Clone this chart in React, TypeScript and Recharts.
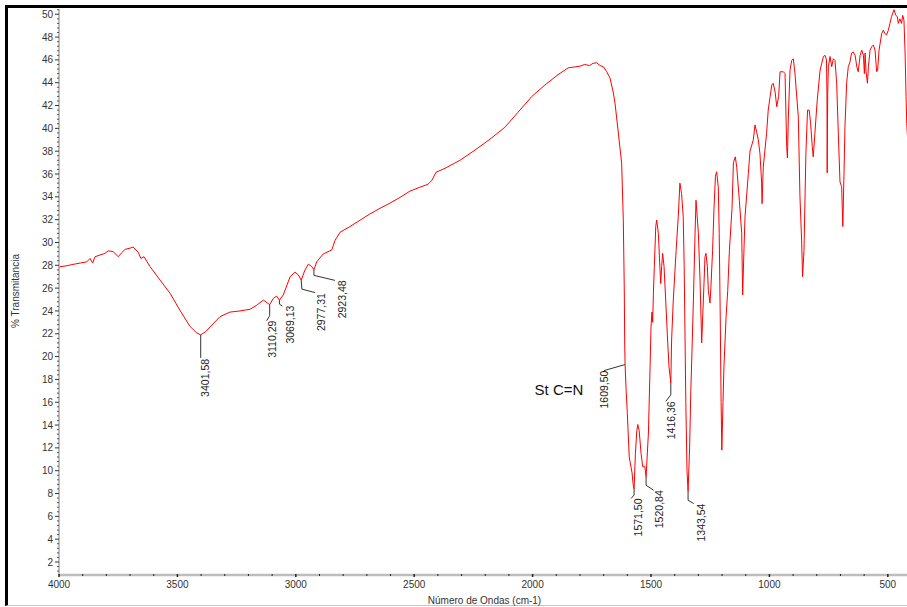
import React from 'react';
import { LineChart, Line, XAxis, YAxis, ReferenceDot } from 'recharts';

// FT-IR spectrum: wavenumber (cm-1) vs. % transmittance
const wavenumbers = [
  4000, 3996, 3970, 3940, 3910, 3883, 3869, 3858, 3848, 3827, 3806, 3792, 3771, 3750, 3735, 3721,
  3700, 3687, 3666, 3654, 3641, 3616, 3573, 3531, 3489, 3447, 3420, 3401.58, 3380, 3362, 3320, 3278,
  3236, 3193, 3165, 3137, 3120, 3110.29, 3095, 3081, 3069.13, 3053, 3024, 3003, 2989, 2977.31, 2961,
  2947, 2933, 2923.48, 2912, 2884, 2848, 2834, 2813, 2771, 2729, 2687, 2644, 2602, 2560, 2518, 2475,
  2442, 2425, 2408, 2370, 2307, 2243, 2180, 2117, 2062, 2003, 1948, 1893, 1850, 1800, 1780, 1760,
  1745, 1729, 1715, 1701, 1687, 1673, 1659, 1652, 1638, 1624, 1617, 1613, 1611, 1609.5, 1605, 1600,
  1592, 1580, 1576, 1571.5, 1566, 1560, 1556, 1550, 1542, 1535, 1526, 1520.84, 1511, 1504, 1500, 1496,
  1493, 1490, 1486, 1480, 1476, 1469, 1462, 1459, 1455, 1451, 1445, 1438, 1430, 1424, 1416.36, 1413,
  1406, 1394, 1385, 1378, 1371, 1364, 1360, 1353, 1348, 1343.54, 1337, 1332, 1328, 1321, 1314, 1310,
  1300, 1293, 1286, 1279, 1272, 1268, 1262, 1258, 1251, 1247, 1240, 1234, 1228, 1223, 1216, 1212,
  1208, 1204, 1201, 1196, 1192, 1183, 1176, 1169, 1158, 1152, 1144, 1138, 1127, 1117, 1113, 1108,
  1103, 1089, 1082, 1068, 1061, 1054, 1047, 1040, 1033, 1031, 1026, 1012, 1005, 997, 990, 984, 976,
  969, 961, 955, 941, 934, 927, 924, 920, 913, 906, 899, 892, 878, 871, 864, 860, 854, 846, 839, 832,
  826, 819, 815, 808, 798, 786, 772, 765, 759, 757, 756, 754, 751, 744, 737, 730, 723, 716, 709, 702,
  695, 690, 685, 681, 674, 667, 660, 653, 646, 638, 631, 625, 617, 610, 603, 599, 596, 592, 586, 582,
  575, 568, 561, 554, 547, 543, 537, 526, 519, 512, 505, 498, 491, 484, 474, 466, 460, 456, 449, 442,
  437, 432, 427, 423, 420, 412, 405,
];

const transmittance = [
  27.76, 27.87, 27.95, 28.08, 28.2, 28.3, 28.6, 28.2, 28.75, 28.9, 29.04, 29.27, 29.2, 28.75, 29.1, 29.4,
  29.5, 29.6, 29.15, 28.6, 28.75, 27.9, 26.7, 25.55, 24.05, 22.65, 22.1, 21.9, 22.2, 22.6, 23.5, 23.9,
  24.0, 24.15, 24.5, 24.95, 24.7, 24.55, 25.1, 25.3, 24.95, 25.4, 27.0, 27.4, 27.15, 26.7, 27.6,
  28.1, 27.9, 27.6, 28.3, 29.0, 29.35, 30.2, 30.9, 31.4, 31.95, 32.5, 33.0, 33.45, 33.95, 34.5, 34.85,
  35.1, 35.45, 36.15, 36.5, 37.2, 38.1, 39.05, 40.1, 41.4, 42.8, 43.8, 44.7, 45.3, 45.45, 45.6, 45.5,
  45.7, 45.75, 45.5, 45.4, 44.96, 44.4, 43.1, 42.2, 39.6, 36.95, 31.96, 26.0, 21.0, 19.3, 17.0, 15.0,
  11.2, 9.8, 8.9, 8.4, 11.5, 13.5, 14.05, 13.5, 11.5, 10.35, 10.35, 9.47, 13.3, 19.1, 22.6, 23.9,
  23.0, 25.5, 27.9, 31.4, 31.96, 30.8, 27.6, 26.4, 27.9, 29.05, 27.9, 24.95, 21.45, 19.1, 17.7, 21.45,
  24.95, 29.3, 32.25, 35.2, 34.3, 32.25, 28.0, 16.0, 10.0, 8.2, 12.0, 17.0, 19.7, 24.95, 30.8, 33.7,
  30.8, 26.7, 21.2, 24.95, 28.75, 29.05, 27.9, 25.8, 24.7, 26.1, 29.3, 33.0, 35.8, 36.2, 34.9, 30.8,
  24.0, 16.0, 11.8, 16.0, 19.1, 23.5, 25.8, 29.3, 33.0, 37.0, 37.5, 36.6, 33.7, 30.8, 25.4, 29.0,
  32.25, 36.05, 38.0, 39.0, 40.3, 39.7, 39.0, 37.8, 35.3, 33.4, 36.6, 39.55, 41.6, 42.8, 43.8, 43.95, 43.2,
  41.9, 42.8, 44.96, 44.96, 44.8, 38.4, 37.4, 41.0, 45.1, 45.95, 46.1, 44.8, 41.0, 34.0, 30.2, 27.0, 29.3, 37.8, 41.6, 41.6,
  40.4, 38.4, 37.5, 39.55, 42.5, 45.1, 46.3, 46.4, 46.0, 43.0, 36.1, 43.0, 45.4, 46.3, 45.4, 46.1, 45.95, 43.95, 39.55, 35.3,
  34.9, 31.4, 36.05, 40.15, 43.95, 45.4, 45.8, 46.6, 46.7, 46.4, 45.4, 44.96, 46.4, 46.85, 46.4, 44.8, 46.6, 44.96, 43.95, 45.4,
  46.85, 47.15, 47.3, 46.85, 44.96, 45.1, 46.85, 48.3, 48.6, 48.3, 48.2, 48.6, 49.2, 49.8, 50.4, 49.9, 49.8, 49.2, 49.6, 49.2,
  49.9, 49.5, 46.6, 42.8, 40.4, 37.5, 36.0,
];

// Annotated band positions (cm-1)
const peakWavenumbers = [3401.58, 3110.29, 3069.13, 2977.31, 2923.48, 1609.5, 1571.5, 1520.84, 1416.36, 1343.54];
const bandNote = 'St C=N';

const xTicks = [4000, 3500, 3000, 2500, 2000, 1500, 1000, 500];
const yTicks = [2, 4, 6, 8, 10, 12, 14, 16, 18, 20, 22, 24, 26, 28, 30, 32, 34, 36, 38, 40, 42, 44, 46, 48, 50];

const spectrum = wavenumbers.map((wn, i) => ({ wn, t: transmittance[i] }));

const FONT = '"Liberation Sans", Arial, sans-serif';

// leader-line geometry for each tag, in pixels relative to the band point
const tagLayout: Record<string, { path: number[][]; text: number[]; note?: number[] }> = {
  '3401.58': { path: [[0, 0], [0, 23]], text: [5, 24] },
  '3110.29': { path: [[0, 0], [0, 11], [-3, 16]], text: [3, 16] },
  '3069.13': { path: [[0, 0], [0, 4], [3, 6]], text: [10.5, 5.5] },
  '2977.31': { path: [[0, 0], [0.7, 9], [14, 12.5]], text: [20, 13] },
  '2923.48': { path: [[0, 0], [0, 5.5], [21, 10.5]], text: [28, 10.5] },
  '1609.5': { path: [[0, 0], [-21, 6]], text: [-20.7, 6], note: [-41.7, 30.5] },
  '1571.5': { path: [[0, 0], [0, 6], [-3, 9.5]], text: [4, 9.5] },
  '1520.84': { path: [[0, 0], [0, 8.5], [7.6, 13.5]], text: [13.3, 13.5] },
  '1416.36': { path: [[0, 0], [0, 12], [-5, 18.5]], text: [0.5, 18.5] },
  '1343.54': { path: [[0, 0], [0, 9], [5.6, 12.3]], text: [13.3, 12.3] },
};

const fmt = (v: number) => v.toFixed(2).replace('.', ',');

function PeakTag(props: any) {
  const { cx, cy, wn } = props;
  if (cx == null || cy == null) return null;
  const lay = tagLayout[String(wn)];
  const d = lay.path.map((p, i) => `${i ? 'L' : 'M'}${cx + p[0]},${cy + p[1]}`).join(' ');
  const tx = cx + lay.text[0];
  const ty = cy + lay.text[1];
  return (
    <g>
      <path d={d} stroke="#333" strokeWidth={1} fill="none" />
      <text
        transform={`translate(${tx},${ty}) rotate(-90)`}
        textAnchor="end"
        dy="0.35em"
        fontSize={10.5}
        fontFamily={FONT}
        fill="#222"
      >
        {fmt(wn)}
      </text>
      {lay.note && (
        <text x={cx + lay.note[0]} y={cy + lay.note[1]} textAnchor="end" fontSize={15} fontFamily={FONT} fill="#111">
          {bandNote}
        </text>
      )}
    </g>
  );
}

const yMinor: number[] = [];
for (let v = 1.2; v <= 50.41; v += 0.4) yMinor.push(Math.round(v * 10) / 10);
const xMinor: number[] = [];
for (let v = 4000; v >= 400; v -= 100) xMinor.push(v);

function YTick(props: any) {
  const { x, y, payload } = props;
  const v = payload.value;
  const major = yTicks.includes(v);
  return (
    <g>
      <line x1={x - (major ? 4 : 2)} x2={x} y1={y} y2={y} stroke={major ? '#333' : '#555'} strokeWidth={1} />
      {major && (
        <text x={x - 6} y={y} dy="0.36em" textAnchor="end" fontSize={10} fontFamily={FONT} fill="#333">
          {v}
        </text>
      )}
    </g>
  );
}

function XTick(props: any) {
  const { x, y, payload } = props;
  const v = payload.value;
  const major = xTicks.includes(v);
  return (
    <g>
      <line x1={x} x2={x} y1={y - 1} y2={y + (major ? 2 : 1)} stroke="#222" strokeWidth={major ? 1.5 : 1} />
      {major && (
        <text x={x} y={y + 13} textAnchor="middle" fontSize={10} fontFamily={FONT} fill="#333">
          {v}
        </text>
      )}
    </g>
  );
}

export default function App() {
  return (
    <div style={{ position: 'fixed', left: 0, top: 0, width: 907, height: 607, overflow: 'hidden', background: '#fff' }}>
      <div
        style={{
          position: 'absolute',
          left: 5,
          top: 5,
          width: 920,
          height: 597,
          borderTop: '3px solid #000',
          borderLeft: '3px solid #000',
          borderBottom: '1px solid #c8c8c8',
        }}
      />
      <div style={{ position: 'absolute', left: 0, top: 0 }}>
        <LineChart width={920} height={607} data={spectrum} margin={{ top: 9, right: 8.5, bottom: 0, left: 0 }}>
          <XAxis
            dataKey="wn"
            type="number"
            domain={[400, 4000]}
            reversed
            ticks={xMinor}
            interval={0}
            height={32}
            tickSize={0}
            tickMargin={0}
            tickLine={false}
            axisLine={{ stroke: '#bdbdbd', strokeWidth: 2.5 }}
            tick={<XTick />}
            allowDataOverflow
          />
          <YAxis
            type="number"
            domain={[0.86, 50.46]}
            ticks={yMinor}
            interval={0}
            width={59}
            tickSize={0}
            tickMargin={0}
            tickLine={false}
            axisLine={{ stroke: '#a8a8a8', strokeWidth: 1.5 }}
            tick={<YTick />}
            allowDataOverflow
          />
          <Line
            dataKey="t"
            type="linear"
            stroke="#ff0000"
            strokeWidth={1}
            dot={false}
            activeDot={false}
            isAnimationActive={false}
          />
          {peakWavenumbers.map((wn) => (
            <ReferenceDot
              key={wn}
              x={wn}
              y={transmittance[wavenumbers.indexOf(wn)]}
              r={0}
              ifOverflow="visible"
              shape={(p: any) => <PeakTag {...p} wn={wn} />}
            />
          ))}
        </LineChart>
      </div>
      <div
        style={{
          position: 'absolute',
          left: 15,
          top: 291,
          transform: 'translate(-50%, -50%) rotate(-90deg)',
          fontFamily: FONT,
          fontSize: 10,
          color: '#333',
          whiteSpace: 'nowrap',
        }}
      >
        % Transmitancia
      </div>
      <div
        style={{
          position: 'absolute',
          left: 484.5,
          top: 600,
          transform: 'translate(-50%, -50%)',
          fontFamily: FONT,
          fontSize: 10,
          color: '#333',
          whiteSpace: 'nowrap',
        }}
      >
        Número de Ondas (cm-1)
      </div>
    </div>
  );
}
